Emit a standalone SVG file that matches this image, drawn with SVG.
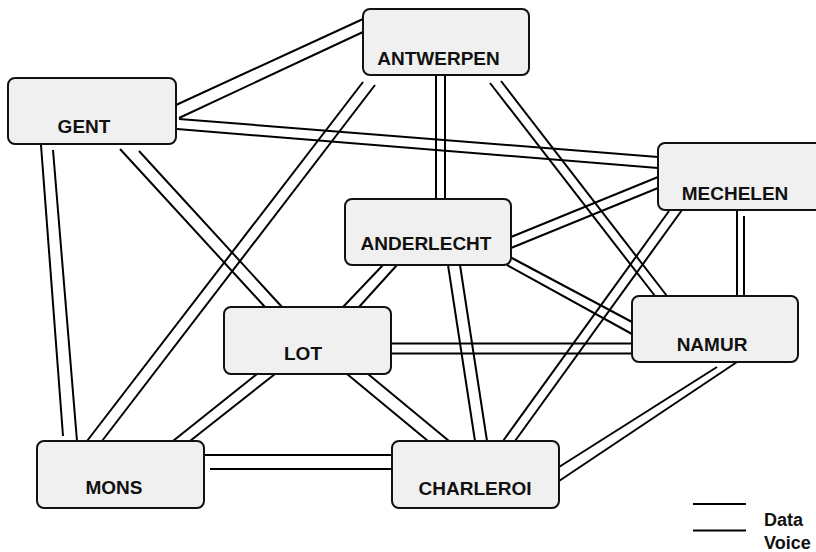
<svg xmlns="http://www.w3.org/2000/svg" width="816" height="552" viewBox="0 0 816 552">
<style>
.box{fill:#f0f0f0;stroke:#111;stroke-width:2}
.lbl{font-family:"Liberation Sans",Arial,sans-serif;font-weight:bold;font-size:19px;fill:#111;text-anchor:middle}
.leg{font-family:"Liberation Sans",Arial,sans-serif;font-weight:bold;font-size:18px;fill:#111}
.ln{stroke:#000;stroke-width:2;fill:none}
</style>
<rect width="816" height="552" fill="#fff"/>
<g id="connectors" class="ln">
<line x1="176" y1="105" x2="363" y2="19"/><line x1="179" y1="118" x2="363" y2="32"/>
<line x1="179" y1="119" x2="658" y2="157"/><line x1="177" y1="129" x2="658" y2="168"/>
<line x1="41" y1="145" x2="63" y2="436"/><line x1="53" y1="150" x2="77" y2="441"/>
<line x1="120" y1="149" x2="265" y2="307"/><line x1="139" y1="151" x2="282" y2="307"/>
<line x1="363" y1="82" x2="87" y2="441"/><line x1="375" y1="85" x2="102" y2="441"/>
<line x1="436" y1="75" x2="436" y2="199"/><line x1="445" y1="75" x2="445" y2="199"/>
<line x1="490" y1="83" x2="655" y2="296"/><line x1="501" y1="81" x2="667" y2="296"/>
<line x1="658" y1="177" x2="511" y2="237"/><line x1="658" y1="188" x2="511" y2="248"/>
<line x1="737" y1="210" x2="737" y2="296"/><line x1="744" y1="216" x2="744" y2="296"/>
<line x1="669" y1="211" x2="503" y2="441"/><line x1="682" y1="210" x2="515" y2="441"/>
<line x1="383" y1="265" x2="343" y2="307"/><line x1="397" y1="265" x2="359" y2="307"/>
<line x1="448" y1="265" x2="475" y2="441"/><line x1="460" y1="265" x2="487" y2="441"/>
<line x1="510" y1="257" x2="632" y2="322"/><line x1="507" y1="265" x2="632" y2="334"/>
<line x1="391" y1="343.5" x2="632" y2="343.5"/><line x1="391" y1="353.5" x2="632" y2="353.5"/>
<line x1="257" y1="374" x2="173" y2="441"/><line x1="275" y1="374" x2="190" y2="441"/>
<line x1="347" y1="374" x2="428" y2="441"/><line x1="368" y1="374" x2="449" y2="441"/>
<line x1="204" y1="455" x2="392" y2="455"/><line x1="210" y1="469" x2="392" y2="469"/>
<line x1="717" y1="367" x2="559" y2="467"/><line x1="737" y1="362" x2="559" y2="481"/>
</g>
<g id="gent"><rect class="box" x="8" y="78" width="168" height="66" rx="7"/><text class="lbl" x="84" y="133">GENT</text></g>
<g id="antwerpen"><rect class="box" x="363" y="9" width="166" height="66" rx="7"/><text class="lbl" x="438.5" y="65">ANTWERPEN</text></g>
<g id="mechelen"><rect class="box" x="658" y="143" width="166" height="67" rx="7"/><text class="lbl" x="735" y="200">MECHELEN</text></g>
<g id="anderlecht"><rect class="box" x="345" y="199" width="166" height="66" rx="7"/><text class="lbl" x="426" y="250">ANDERLECHT</text></g>
<g id="lot"><rect class="box" x="224" y="307" width="167" height="67" rx="7"/><text class="lbl" x="303" y="360">LOT</text></g>
<g id="mons"><rect class="box" x="37" y="441" width="167" height="67" rx="7"/><text class="lbl" x="114" y="494">MONS</text></g>
<g id="charleroi"><rect class="box" x="392" y="441" width="167" height="67" rx="7"/><text class="lbl" x="475" y="495">CHARLEROI</text></g>
<g id="namur"><rect class="box" x="632" y="296" width="166" height="66" rx="7"/><text class="lbl" x="712" y="351">NAMUR</text></g>
<g id="legend">
<line class="ln" x1="693" y1="504" x2="746" y2="504"/>
<line class="ln" x1="693" y1="530.5" x2="746" y2="530.5"/>
<text class="leg" x="764" y="526">Data</text>
<text class="leg" x="764" y="549">Voice</text>
</g>
</svg>
